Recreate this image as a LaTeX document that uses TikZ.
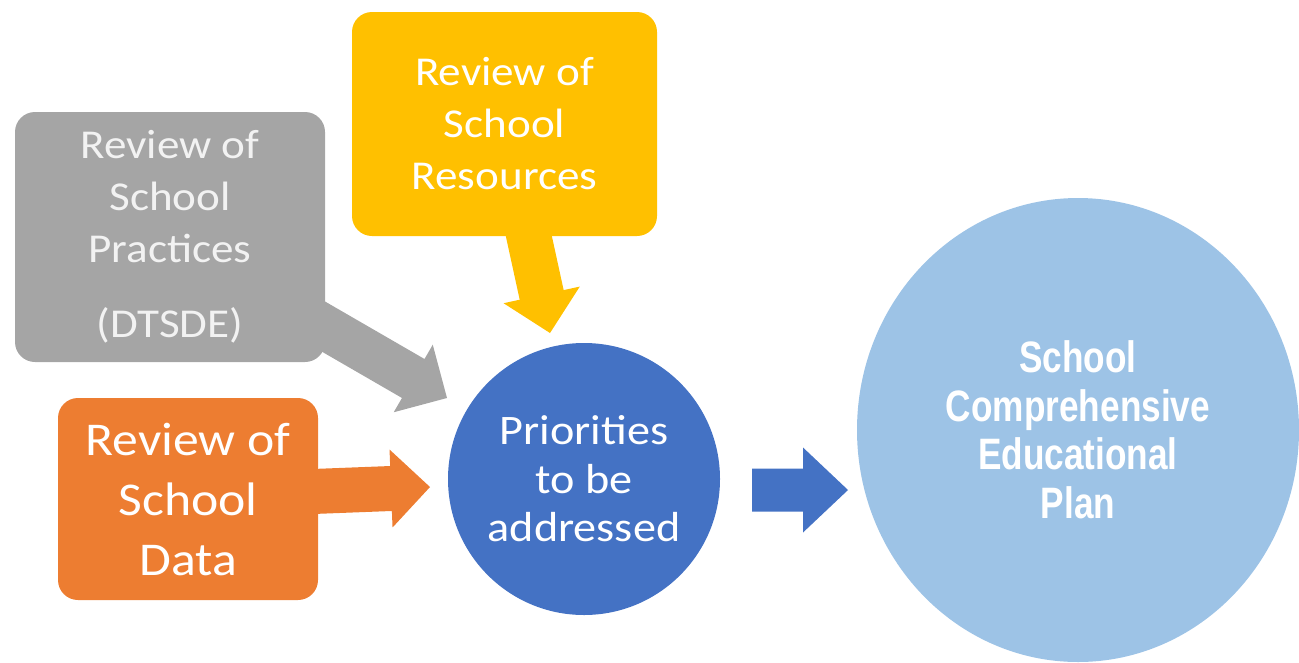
\documentclass[tikz,border=0pt]{standalone}
\usepackage{fontspec}
\newfontfamily\boxfont{Carlito}[FakeStretch=1.1]
\newfontfamily\planfont{Liberation Sans}[FakeStretch=0.8]
\usetikzlibrary{calc}
\usetikzlibrary{shapes.geometric}

\definecolor{practGray}{HTML}{A5A5A5}
\definecolor{practText}{HTML}{F2F2F2}
\definecolor{resYellow}{HTML}{FFC000}
\definecolor{dataOrange}{HTML}{ED7D31}
\definecolor{prioBlue}{HTML}{4472C4}
\definecolor{planBlue}{HTML}{9DC3E6}

% block arrow: colour, tail, tip
\newcommand{\fatArrow}[3]{%
  \coordinate (neck) at ($(#3)!\headLen!(#2)$);
  \fill[#1] ($(#2)!\shaftW!90:(#3)$) -- ($(neck)!\shaftW!90:(#3)$) -- ($(neck)!\headW!90:(#3)$) -- (#3)
    -- ($(neck)!\headW!-90:(#3)$) -- ($(neck)!\shaftW!-90:(#3)$) -- ($(#2)!\shaftW!-90:(#3)$) -- cycle;
}

\begin{document}
\begin{tikzpicture}[x=1pt,y=-1pt,
    box/.style={rounded corners=20pt, inner sep=0pt, align=center, text=white},
    disc/.style={inner sep=0pt, align=center, text=white}]
        \def\shaftW{22.5pt}
        \def\headW{39pt}
        \def\headLen{39pt}

        \useasboundingbox (0,0) rectangle (1299,662);

        \coordinate (practTail) at (300,313);
        \coordinate (practTip) at (447,398);
        \coordinate (resTail) at (524,214);
        \coordinate (resTip) at (550,333);
        \coordinate (dataTail) at (300,492);
        \coordinate (dataTip) at (430,487);
        \coordinate (prioTail) at (752,490);
        \coordinate (prioTip) at (848,490);

        \fatArrow{practGray}{practTail}{practTip}
        \fatArrow{resYellow}{resTail}{resTip}
        \fatArrow{dataOrange}{dataTail}{dataTip}
        \def\shaftW{21.5pt}
        \def\headW{42.5pt}
        \def\headLen{45pt}
        \fatArrow{prioBlue}{prioTail}{prioTip}

        \node[box, fill=practGray, text=practText, minimum width=310pt, minimum height=250pt,
            font=\boxfont\fontsize{41}{52}\selectfont] (practices) at (170,237)
            {Review of\\School\\Practices\\[23pt](DTSDE)};
        \node[box, fill=resYellow, minimum width=305pt, minimum height=224pt,
            font=\boxfont\fontsize{41}{52}\selectfont] (resources) at (504.5,124)
            {Review of\\School\\Resources};
        \node[box, fill=dataOrange, minimum width=260pt, minimum height=202pt,
            font=\boxfont\fontsize{47}{60}\selectfont] (data) at (188,499)
            {Review of\\School\\Data};
        \node[disc, circle, fill=prioBlue, minimum size=272pt,
            font=\boxfont\fontsize{42}{48.5}\selectfont] (priorities) at (584,479)
            {Priorities\\to be\\addressed};
        \node[disc, ellipse, fill=planBlue, minimum width=442pt, minimum height=464pt,
            font=\planfont\bfseries\fontsize{44}{48.5}\selectfont] (plan) at (1078,430)
            {School\\Comprehensive\\Educational\\Plan};
    \end{tikzpicture}
\end{document}
